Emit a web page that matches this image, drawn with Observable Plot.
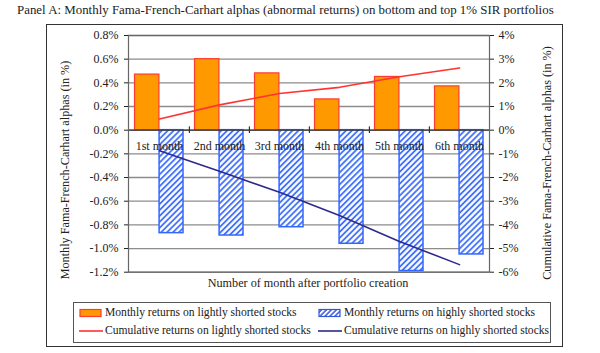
<!DOCTYPE html>
<html>
<head>
<meta charset="utf-8">
<script src="https://cdn.jsdelivr.net/npm/d3@7"></script>
<script src="https://cdn.jsdelivr.net/npm/@observablehq/plot@0.6"></script>
<style>
  html, body { margin: 0; padding: 0; background: #fff; }
  body { width: 600px; height: 353px; position: relative; overflow: hidden; font-family: "Liberation Serif", "DejaVu Serif", serif; color: #222; }
  #title { position: absolute; left: 17px; top: 3px; font-size: 12.9px; white-space: nowrap; }
  #box { position: absolute; left: 46px; top: 24px; width: 515px; height: 321px; border: 1.5px solid #333; }
  #chart { position: absolute; left: 0; top: 0; }
  #legend { position: absolute; left: 73px; top: 302px; width: 476px; height: 39px; border: 1px solid #555; font-size: 11.6px; }
  .item { position: absolute; display: flex; align-items: center; white-space: nowrap; }
  .item svg { margin-right: 2px; }
  .vlabel { position: absolute; font-size: 12.2px; white-space: nowrap; transform: translate(-50%, -50%) rotate(-90deg); }
</style>
</head>
<body>
<div id="title">Panel A: Monthly Fama-French-Carhart alphas (abnormal returns) on bottom and top 1% SIR portfolios</div>
<div id="box"></div>
<div id="chart"></div>
<div id="legend"></div>
<div id="leftLabel" class="vlabel" style="left:65px; top:170px;"></div>
<div id="rightLabel" class="vlabel" style="left:547px; top:163px;"></div>
<script>
const months = ["1st month", "2nd month", "3rd month", "4th month", "5th month", "6th month"];
const lightMonthly = [0.47, 0.60, 0.48, 0.26, 0.45, 0.37];
const highMonthly = [-0.87, -0.89, -0.82, -0.96, -1.19, -1.05];
const lightCumulative = [0.47, 1.07, 1.55, 1.81, 2.26, 2.63];
const highCumulative = [-0.87, -1.74, -2.62, -3.60, -4.70, -5.68];
const leftTicks = [-1.2, -1.0, -0.8, -0.6, -0.4, -0.2, 0.0, 0.2, 0.4, 0.6, 0.8];
const rightTicks = [-6, -5, -4, -3, -2, -1, 0, 1, 2, 3, 4];
const legendLabels = [
  "Monthly returns on lightly shorted stocks",
  "Monthly returns on highly shorted stocks",
  "Cumulative returns on lightly shorted stocks",
  "Cumulative returns on highly shorted stocks"
];
const leftLabel = "Monthly Fama-French-Carhart alphas (in %)";
const rightLabel = "Cumulative Fama-French-Carhart alphas (in %)";
const xLabel = "Number of month after portfolio creation";

document.getElementById("leftLabel").textContent = leftLabel;
document.getElementById("rightLabel").textContent = rightLabel;

// ratio between right (cumulative) and left (monthly) axes
const ratio = 5;
const data = months.map((m, i) => ({
  month: m,
  light: lightMonthly[i],
  high: highMonthly[i],
  lightCum: lightCumulative[i],
  highCum: highCumulative[i]
}));

const width = 600, height = 300;
const mL = 128, mR = 111, mT = 35, mB = 28.3;
const bw = (width - mL - mR) / months.length;
const font = "Liberation Serif, DejaVu Serif, serif";

const plot = Plot.plot({
  width, height,
  marginLeft: mL, marginRight: mR, marginTop: mT, marginBottom: mB,
  style: { fontFamily: font, fontSize: "12px", color: "#222", background: "transparent", overflow: "visible" },
  x: { domain: months, padding: 0, axis: null },
  y: { domain: [-1.2, 0.8], axis: null },
  marks: [
    Plot.gridY(leftTicks, { stroke: "#8c8c8c", strokeOpacity: 1, strokeWidth: 1.3 }),
    Plot.barY(data, { x: "month", y: "light", fill: "#FF9900", stroke: "#FF3B30", strokeWidth: 1.2, insetLeft: 5.5, insetRight: bw / 2 }),
    Plot.barY(data, { x: "month", y: "high", fill: "url(#hatch)", stroke: "#3366FF", strokeWidth: 1.5, insetLeft: bw / 2, insetRight: 6 }),
    Plot.ruleY([0], { stroke: "#333", strokeWidth: 1.3 }),
    Plot.ruleX(months.slice(1), { x: d => d, y1: -0.028, y2: 0.028, dx: -bw / 2, stroke: "#333", strokeWidth: 1.2 }),
    Plot.lineY(data, { x: "month", y: d => d.lightCum / ratio, stroke: "#FF3333", strokeWidth: 1.6 }),
    Plot.lineY(data, { x: "month", y: d => d.highCum / ratio, stroke: "#2E2A8C", strokeWidth: 1.6 }),
    Plot.text(data, { x: "month", y: () => 0, text: "month", dy: 16, fontSize: 12, fill: "#222" }),
    Plot.frame({ stroke: "#666", strokeWidth: 1.2 }),
    Plot.axisY(leftTicks, { anchor: "left", tickFormat: d => d.toFixed(1) + "%", tickSize: 4, tickPadding: 6, label: null, fontSize: 12 }),
    Plot.axisY(rightTicks.map(t => t / ratio), { anchor: "right", tickFormat: d => Math.round(d * ratio) + "%", tickSize: 4, tickPadding: 5, label: null, fontSize: 12 }),
    Plot.text([xLabel], { frameAnchor: "bottom", dx: -1, dy: 15, fontSize: 12.2, fill: "#222" })
  ]
});

// hatch pattern
const svg = d3.select(plot);
const defs = svg.insert("defs", ":first-child");
const pat = defs.append("pattern")
  .attr("id", "hatch").attr("patternUnits", "userSpaceOnUse")
  .attr("width", 4.2).attr("height", 4.2)
  .attr("patternTransform", "rotate(45)");
pat.append("rect").attr("width", 4.2).attr("height", 4.2).attr("fill", "#fff");
pat.append("line").attr("x1", 1).attr("y1", 0).attr("x2", 1).attr("y2", 4.2)
  .attr("stroke", "#3366FF").attr("stroke-width", 1.7);

document.getElementById("chart").appendChild(plot);

// legend
const legend = d3.select("#legend");
const pos = [[5, 3], [244, 3], [5, 21], [244, 21]];
legendLabels.forEach((lab, i) => {
  const it = legend.append("div").attr("class", "item")
    .style("left", pos[i][0] + "px").style("top", pos[i][1] + "px");
  const s = it.append("svg").attr("width", 24).attr("height", 12);
  if (i === 0) {
    s.append("rect").attr("x", 1).attr("y", 2.5).attr("width", 21).attr("height", 7).attr("fill", "#FF9900").attr("stroke", "#FF3B30").attr("stroke-width", 1.2);
  } else if (i === 1) {
    const d2 = s.append("defs").append("pattern").attr("id", "hatch2").attr("patternUnits", "userSpaceOnUse")
      .attr("width", 3.5).attr("height", 3.5).attr("patternTransform", "rotate(45)");
    d2.append("rect").attr("width", 3.5).attr("height", 3.5).attr("fill", "#fff");
    d2.append("line").attr("x1", 1).attr("y1", 0).attr("x2", 1).attr("y2", 3.5).attr("stroke", "#3355DD").attr("stroke-width", 1.5);
    s.append("rect").attr("x", 1).attr("y", 2.5).attr("width", 21).attr("height", 7).attr("fill", "url(#hatch2)").attr("stroke", "#3355DD").attr("stroke-width", 1.2);
  } else {
    s.append("line").attr("x1", 0).attr("x2", 24).attr("y1", 6).attr("y2", 6)
      .attr("stroke", i === 2 ? "#FF3333" : "#2E2A8C").attr("stroke-width", 1.6);
  }
  it.append("span").text(lab);
});
</script>
</body>
</html>
